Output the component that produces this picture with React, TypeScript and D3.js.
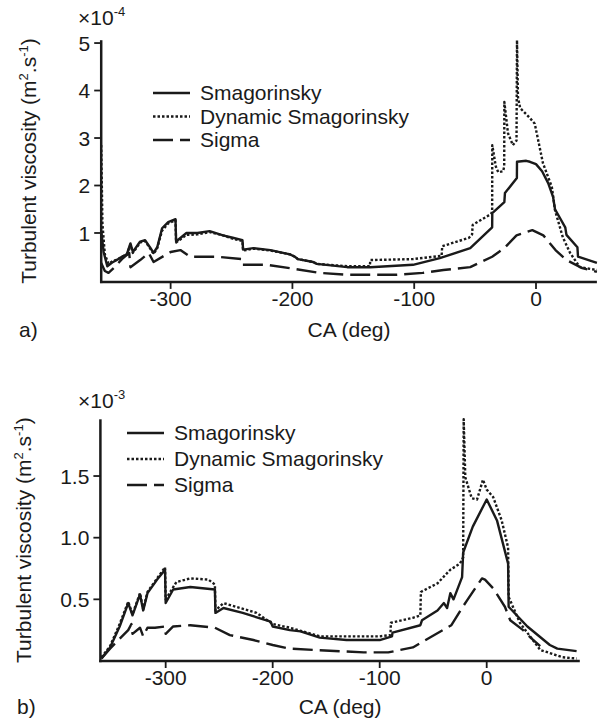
import React from "react";
import * as d3 from "d3";

// ---------- Panel a) (values x1e-4) ----------
const aSmagDeg = [-357, -355, -352, -348, -343, -340, -336, -333, -331, -325, -321, -317, -314, -311, -307, -302, -296, -295.5, -287, -278, -268, -257, -249, -241, -240.5, -232, -218, -202, -198, -195.5, -183, -180, -155, -136, -101, -79, -54, -36, -35.9, -26, -25.5, -15.7, -15.6, -8, -5, 0, 5, 10, 14, 15.6, 24, 25, 34, 34.5, 50];
const aSmagVal = [1.05, 0.6, 0.3, 0.38, 0.45, 0.5, 0.55, 0.78, 0.6, 0.82, 0.85, 0.7, 0.58, 0.7, 1.1, 1.23, 1.29, 0.82, 1.0, 1.0, 1.04, 0.95, 0.9, 0.85, 0.65, 0.68, 0.64, 0.55, 0.5, 0.45, 0.39, 0.35, 0.28, 0.28, 0.33, 0.47, 0.68, 1.12, 1.42, 1.65, 1.84, 2.16, 2.5, 2.52, 2.5, 2.45, 2.3, 2.05, 1.76, 1.5, 1.12, 0.96, 0.7, 0.5, 0.37];

const aDynDeg = [-357, -356, -354, -351, -348, -343, -340, -336, -333, -331, -325, -321, -317, -314, -311, -307, -302, -296, -295.5, -287, -278, -268, -257, -249, -241, -240.5, -232, -218, -202, -198, -195.5, -183, -180, -155, -136.5, -136, -101, -77.5, -77, -55, -52.5, -52, -37, -36, -35.9, -33, -31, -27, -26.1, -26, -23, -19, -16, -15.6, -14.8, -13, -5, -1, 5.7, 13, 15.6, 22, 28, 36, 50];
const aDynVal = [2.85, 1.2, 0.55, 0.35, 0.4, 0.45, 0.5, 0.55, 0.75, 0.58, 0.8, 0.83, 0.68, 0.56, 0.68, 1.05, 1.2, 1.27, 0.8, 0.96, 0.97, 1.02, 0.95, 0.88, 0.83, 0.63, 0.67, 0.63, 0.55, 0.5, 0.45, 0.39, 0.35, 0.3, 0.3, 0.43, 0.45, 0.52, 0.72, 0.9, 0.97, 1.17, 1.4, 1.45, 2.85, 2.4, 2.28, 2.3, 2.4, 3.76, 3.1, 2.85, 2.95, 5.06, 3.86, 3.63, 3.42, 3.3, 2.47, 1.97, 1.48, 0.91, 0.58, 0.28, 0.22];

const aSigDeg = [-357, -354, -351, -346, -340, -334, -333, -325, -318, -314, -300, -292, -284, -262, -241.5, -241, -221, -202, -178, -155, -114, -93, -76, -54, -36, -26, -16, -3, 6, 16, 25, 38, 50];
const aSigVal = [0.37, 0.2, 0.16, 0.28, 0.45, 0.58, 0.28, 0.43, 0.58, 0.39, 0.6, 0.64, 0.5, 0.5, 0.45, 0.33, 0.33, 0.26, 0.16, 0.12, 0.12, 0.16, 0.22, 0.28, 0.5, 0.68, 0.95, 1.06, 0.95, 0.64, 0.43, 0.26, 0.18];

// ---------- Panel b) (values x1e-3) ----------
const bSmagDeg = [-360, -352, -343, -335, -331, -324, -321, -317, -308, -300.6, -300, -293, -277, -254, -253.5, -246, -228, -202, -200, -184, -174, -156, -131, -100, -88.5, -88, -62, -60.5, -46, -40, -37, -34, -31, -23, -22, -13, 0, 9.6, 20, 20.5, 38, 59, 66, 84];
const bSmagVal = [0.02, 0.11, 0.28, 0.47, 0.37, 0.54, 0.41, 0.55, 0.66, 0.74, 0.47, 0.58, 0.6, 0.58, 0.39, 0.43, 0.39, 0.32, 0.28, 0.25, 0.24, 0.19, 0.17, 0.17, 0.2, 0.23, 0.29, 0.33, 0.41, 0.47, 0.43, 0.55, 0.5, 0.68, 0.88, 1.09, 1.31, 1.14, 0.79, 0.44, 0.28, 0.13, 0.1, 0.08];

const bDynDeg = [-360, -352, -343, -335, -331, -324, -321, -317, -308, -300.6, -300, -290, -277, -260, -254, -253.5, -246, -215, -200, -184, -156, -100, -90, -89.5, -69, -62, -61.5, -46, -34, -25, -22, -21.5, -20, -14, -9, -3.5, 0, 6, 14, 20, 20.5, 31, 50, 71, 84];
const bDynVal = [0.03, 0.12, 0.3, 0.48, 0.38, 0.55, 0.42, 0.56, 0.67, 0.76, 0.5, 0.64, 0.67, 0.66, 0.62, 0.41, 0.47, 0.39, 0.3, 0.27, 0.2, 0.2, 0.21, 0.31, 0.35, 0.37, 0.56, 0.63, 0.74, 0.79, 0.84, 1.96, 1.49, 1.32, 1.31, 1.47, 1.39, 1.33, 1.14, 0.92, 0.52, 0.31, 0.09, 0.03, 0.02];

const bSigDeg = [-360, -352, -343, -335, -332, -331, -324, -321, -317, -310, -300.6, -300, -293, -277, -254, -240, -218, -200, -184, -162, -115, -92, -69, -53, -33, -23, -18.5, -4.4, -1.6, 6, 17, 22, 34, 41, 50];
const bSigVal = [0.02, 0.1, 0.18, 0.25, 0.3, 0.22, 0.27, 0.2, 0.27, 0.27, 0.28, 0.22, 0.28, 0.29, 0.27, 0.21, 0.17, 0.13, 0.1, 0.09, 0.07, 0.07, 0.11, 0.19, 0.29, 0.43, 0.49, 0.67, 0.66, 0.59, 0.44, 0.33, 0.25, 0.19, 0.12];

const xTicks = [-300, -200, -100, 0];
const aYTicks = [1, 2, 3, 4, 5];
const bYTicks = [0.5, 1.0, 1.5];
const seriesNames = ["Smagorinsky", "Dynamic Smagorinsky", "Sigma"];

const FONT = "'Liberation Sans', Arial, Helvetica, sans-serif";
const FS = 21;
const dashes = [null, "2.5,2", "20,7"];

type PanelProps = {
  xDomain: [number, number];
  xRange: [number, number];
  yDomain: [number, number];
  yRange: [number, number];
  yTicks: number[];
  yFmt: (v: number) => string;
  series: { deg: number[]; val: number[] }[];
  exponent: string;
  expPos: [number, number];
  legendX: number;
  legendY: number;
  legendGap: number;
  label: string;
  labelPos: [number, number];
  xLabelY: number;
  yLabelX: number;
};

function Panel(p: PanelProps) {
  const x = d3.scaleLinear().domain(p.xDomain).range(p.xRange);
  const y = d3.scaleLinear().domain(p.yDomain).range(p.yRange);
  const x0 = p.xRange[0];
  const yB = p.yRange[0];
  const yT = p.yRange[1];
  const line = d3
    .line<[number, number]>()
    .x((d) => x(d[0]))
    .y((d) => y(d[1]));
  const yMid = (yB + yT) / 2;
  return (
    <g fontFamily={FONT} fontSize={FS} fill="#1a1a1a">
      {p.series.map((s, i) => (
        <path
          key={i}
          d={line(s.deg.map((d, k) => [d, s.val[k]] as [number, number])) || ""}
          fill="none"
          stroke="#1a1a1a"
          strokeWidth={2.4}
          strokeDasharray={dashes[i] || undefined}
          strokeLinejoin="round"
        />
      ))}
      <line x1={x0} x2={x0} y1={yT} y2={yB + 1.2} stroke="#1a1a1a" strokeWidth={2.5} />
      <line x1={x0 - 1.2} x2={p.xRange[1]} y1={yB} y2={yB} stroke="#1a1a1a" strokeWidth={2.5} />
      {p.yTicks.map((t) => (
        <g key={t}>
          <line x1={x0 - 7} x2={x0} y1={y(t)} y2={y(t)} stroke="#1a1a1a" strokeWidth={1.8} />
          <text x={x0 - 11} y={y(t)} dy="0.36em" textAnchor="end">
            {p.yFmt(t)}
          </text>
        </g>
      ))}
      {xTicks.map((t) => (
        <g key={t}>
          <line x1={x(t)} x2={x(t)} y1={yB} y2={yB + 7} stroke="#1a1a1a" strokeWidth={1.8} />
          <text x={x(t)} y={yB + 24} textAnchor="middle">
            {t}
          </text>
        </g>
      ))}
      <text x={p.expPos[0]} y={p.expPos[1]}>
        ×10
        <tspan fontSize={13} dy={-9}>
          {p.exponent}
        </tspan>
      </text>
      <text
        transform={`translate(${p.yLabelX},${yMid}) rotate(-90)`}
        textAnchor="middle"
      >
        Turbulent viscosity (m
        <tspan fontSize={13} dy={-8}>
          2
        </tspan>
        <tspan dy={8}>.s</tspan>
        <tspan fontSize={13} dy={-8}>
          -1
        </tspan>
        <tspan dy={8}>)</tspan>
      </text>
      <text x={(p.xRange[0] + p.xRange[1]) / 2} y={p.xLabelY} textAnchor="middle">
        CA (deg)
      </text>
      <text x={p.labelPos[0]} y={p.labelPos[1]}>
        {p.label}
      </text>
      {seriesNames.map((n, i) => (
        <g key={n}>
          <line
            x1={p.legendX}
            x2={p.legendX + 37}
            y1={p.legendY + i * p.legendGap}
            y2={p.legendY + i * p.legendGap}
            stroke="#1a1a1a"
            strokeWidth={2.4}
            strokeDasharray={dashes[i] || undefined}
          />
          <text x={p.legendX + 47} y={p.legendY + i * p.legendGap} dy="0.35em">
            {n}
          </text>
        </g>
      ))}
    </g>
  );
}

export default function App() {
  return (
    <svg
      width={598}
      height={727}
      style={{ position: "absolute", left: 0, top: 0, background: "#fff" }}
    >
      <rect width={598} height={727} fill="#fff" />
      <Panel
        xDomain={[-357, 50]}
        xRange={[101.2, 596.9]}
        yDomain={[-0.03, 5.06]}
        yRange={[281.9, 40.2]}
        yTicks={aYTicks}
        yFmt={(v) => String(v)}
        series={[
          { deg: aSmagDeg, val: aSmagVal },
          { deg: aDynDeg, val: aDynVal },
          { deg: aSigDeg, val: aSigVal },
        ]}
        exponent="-4"
        expPos={[78, 25]}
        legendX={153}
        legendY={93}
        legendGap={23.5}
        label="a)"
        labelPos={[19, 337]}
        xLabelY={337}
        yLabelX={36}
      />
      <Panel
        xDomain={[-361, 87]}
        xRange={[100.4, 579.8]}
        yDomain={[0, 1.96]}
        yRange={[661, 419.3]}
        yTicks={bYTicks}
        yFmt={(v) => v.toFixed(1)}
        series={[
          { deg: bSmagDeg, val: bSmagVal },
          { deg: bDynDeg, val: bDynVal },
          { deg: bSigDeg, val: bSigVal },
        ]}
        exponent="-3"
        expPos={[78, 408]}
        legendX={127}
        legendY={433}
        legendGap={26}
        label="b)"
        labelPos={[17, 714]}
        xLabelY={714}
        yLabelX={31}
      />
    </svg>
  );
}
